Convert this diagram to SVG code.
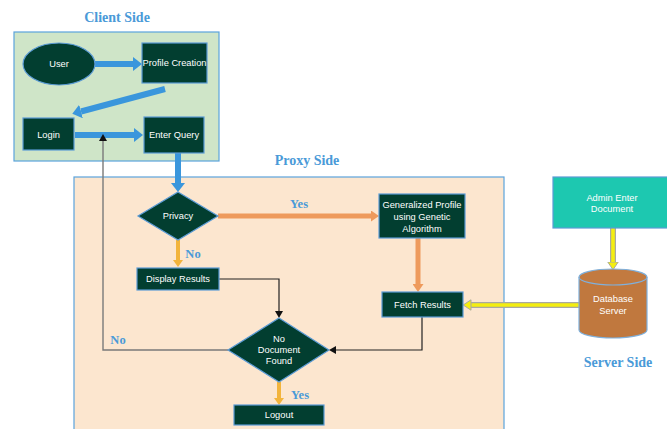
<svg xmlns="http://www.w3.org/2000/svg" width="667" height="429" viewBox="0 0 667 429">
<style>
.node{fill:#023e30;stroke:#5b9bd5;stroke-width:1.2}
.nt{fill:#ffffff;font-family:"Liberation Sans",Arial,sans-serif;font-size:9.3px;text-anchor:middle}
.title{fill:#4a9ad8;font-family:"Liberation Serif","Times New Roman",serif;font-weight:bold;font-size:14px;text-anchor:middle}
.lbl{fill:#4a9ad8;font-family:"Liberation Serif","Times New Roman",serif;font-weight:bold;font-size:12.5px;text-anchor:middle}
.blue{stroke:#3a96dc;stroke-width:6;fill:none}
.orange{stroke:#ee9a5c;stroke-width:5;fill:none}
.gold{stroke:#f2b43c;stroke-width:4;fill:none}
.yout{stroke:#a9a9a0;stroke-width:6;fill:none}
.yin{stroke:#f4ee10;stroke-width:3.6;fill:none}
.thin{stroke:#222;stroke-width:1.2;fill:none}
.gray{stroke:#7a7a7a;stroke-width:1.4;fill:none}
</style>
<defs>
<marker id="mBlue" markerUnits="userSpaceOnUse" markerWidth="9" markerHeight="14" viewBox="0 0 9 14" refX="0" refY="7" orient="auto"><path d="M0,0 L9,7 L0,14 z" fill="#3a96dc"/></marker>
<marker id="mOrange" markerUnits="userSpaceOnUse" markerWidth="8" markerHeight="11" viewBox="0 0 8 11" refX="0" refY="5.5" orient="auto"><path d="M0,0 L8,5.5 L0,11 z" fill="#ee9a5c"/></marker>
<marker id="mGold" markerUnits="userSpaceOnUse" markerWidth="7" markerHeight="10" viewBox="0 0 7 10" refX="0" refY="5" orient="auto"><path d="M0,0 L7,5 L0,10 z" fill="#f2b43c"/></marker>
<marker id="mYellow" markerUnits="userSpaceOnUse" markerWidth="9" markerHeight="12" viewBox="0 0 9 12" refX="0.5" refY="6" orient="auto"><path d="M0.5,0.8 L8.3,6 L0.5,11.2 z" fill="#f4ee10" stroke="#a9a9a0" stroke-width="1"/></marker>
<marker id="mThin" markerUnits="userSpaceOnUse" markerWidth="7" markerHeight="8" viewBox="0 0 7 8" refX="0" refY="4" orient="auto"><path d="M0,0 L7,4 L0,8 z" fill="#111"/></marker>
</defs>
<rect width="667" height="429" fill="#ffffff"/>

<g id="client-area">
<rect x="14" y="32" width="205" height="129" fill="#cfe5c8" stroke="#5ba3dc" stroke-width="1.2"/>
<text class="title" x="117" y="22">Client Side</text>
</g>
<g id="proxy-area">
<rect x="74" y="177" width="430" height="260" fill="#fce6cf" stroke="#5ba3dc" stroke-width="1.2"/>
<text class="title" x="307" y="165">Proxy Side</text>
</g>
<g id="server-label">
<text class="title" x="618" y="367">Server Side</text>
</g>

<g id="connectors">
<line class="blue" x1="95" y1="64" x2="133" y2="64" marker-end="url(#mBlue)"/>
<line class="blue" x1="165" y1="89" x2="81" y2="111.5" marker-end="url(#mBlue)"/>
<line class="blue" x1="75" y1="135" x2="134" y2="135" marker-end="url(#mBlue)"/>
<line class="blue" x1="178" y1="153" x2="178" y2="183" marker-end="url(#mBlue)"/>
<line class="orange" x1="218" y1="216" x2="371" y2="216" marker-end="url(#mOrange)"/>
<line class="orange" x1="418" y1="238" x2="418" y2="284" marker-end="url(#mOrange)"/>
<line class="gold" x1="178" y1="240" x2="178" y2="260" marker-end="url(#mGold)"/>
<line class="gold" x1="279" y1="382" x2="279" y2="398" marker-end="url(#mGold)"/>
<line class="yout" x1="613" y1="228" x2="613" y2="262"/>
<line class="yin" x1="613" y1="228" x2="613" y2="262" marker-end="url(#mYellow)"/>
<line class="yout" x1="579" y1="305" x2="471" y2="305"/>
<line class="yin" x1="579" y1="305" x2="471" y2="305" marker-end="url(#mYellow)"/>
<path class="thin" d="M219,279 H279 V311" marker-end="url(#mThin)"/>
<path class="thin" d="M422,317 V350 H336" marker-end="url(#mThin)"/>
<path class="gray" d="M228,350 H103 V141" marker-end="url(#mThin)"/>
<text class="lbl" x="299" y="208">Yes</text>
<text class="lbl" x="193" y="258">No</text>
<text class="lbl" x="118" y="344">No</text>
<text class="lbl" x="300" y="399">Yes</text>
</g>

<g id="user"><ellipse class="node" cx="59" cy="64" rx="36" ry="21"/><text class="nt" x="59" y="67">User</text></g>
<g id="profile-creation"><rect class="node" x="142" y="43" width="65" height="40"/><text class="nt" x="174.5" y="66">Profile Creation</text></g>
<g id="login"><rect class="node" x="23" y="118" width="51" height="32"/><text class="nt" x="48.5" y="138">Login</text></g>
<g id="enter-query"><rect class="node" x="144" y="117" width="60" height="36"/><text class="nt" x="174" y="138">Enter Query</text></g>
<g id="privacy"><polygon class="node" points="178,192 218,216 178,240 138,216"/><text class="nt" x="178" y="219">Privacy</text></g>
<g id="generalized-profile"><rect class="node" x="379" y="194" width="86" height="44"/><text class="nt" x="422" y="208">Generalized Profile</text><text class="nt" x="422" y="220">using Genetic</text><text class="nt" x="422" y="232">Algorithm</text></g>
<g id="display-results"><rect class="node" x="137" y="268" width="82" height="22"/><text class="nt" x="178" y="282">Display Results</text></g>
<g id="fetch-results"><rect class="node" x="382" y="292" width="81" height="25"/><text class="nt" x="422.5" y="308">Fetch Results</text></g>
<g id="no-document-found"><polygon class="node" points="279,318 329,350 279,382 228,350"/><text class="nt" x="279" y="342">No</text><text class="nt" x="279" y="353">Document</text><text class="nt" x="279" y="364">Found</text></g>
<g id="logout"><rect class="node" x="234" y="405" width="90" height="20"/><text class="nt" x="279" y="418">Logout</text></g>
<g id="admin-enter-document"><rect x="553" y="177" width="116" height="51" fill="#1dc8b0" stroke="#5b9bd5" stroke-width="1.2"/><text class="nt" x="612" y="201">Admin Enter</text><text class="nt" x="612" y="212">Document</text></g>
<g id="database-server">
<path d="M579,277 V330 A34,8 0 0 0 647,330 V277" fill="#c0783e" stroke="#7fb0dc" stroke-width="1.2"/>
<ellipse cx="613" cy="277" rx="34" ry="8" fill="#c27a40" stroke="#7fb0dc" stroke-width="1.2"/>
<text class="nt" x="613" y="302" fill="#f6e8da">Database</text><text class="nt" x="613" y="314">Server</text>
</g>
</svg>
